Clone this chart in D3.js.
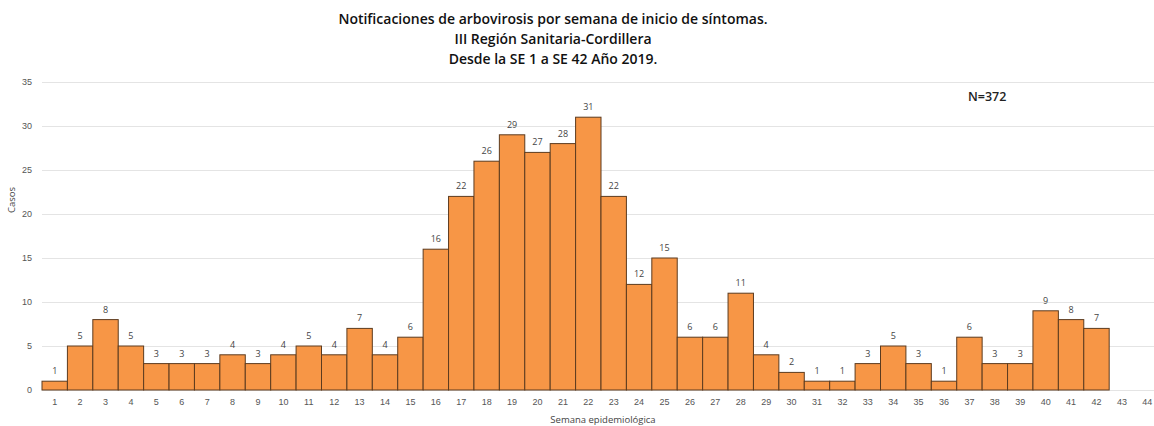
<!DOCTYPE html>
<html>
<head>
<meta charset="utf-8">
<script src="https://cdn.jsdelivr.net/npm/d3@7"></script>
<style>
  body { margin: 0; background: #fff; }
  svg { font-family: "Open Sans", sans-serif; }
  .title { font-weight: 600; font-size: 14px; fill: #111; }
  .tick text { fill: #555; font-size: 9px; }
</style>
</head>
<body>
<svg id="chart" width="1154" height="426"></svg>
<script>
// Data
var weeks = d3.range(1, 45);
var cases = [1, 5, 8, 5, 3, 3, 3, 4, 3, 4, 5, 4, 7, 4, 6, 16, 22, 26, 29, 27,
             28, 31, 22, 12, 15, 6, 6, 11, 4, 2, 1, 1, 3, 5, 3, 1, 6, 3, 3, 9,
             8, 7, null, null];
var yTicks = [0, 5, 10, 15, 20, 25, 30, 35];
var titleLines = ['Notificaciones de arbovirosis por semana de inicio de síntomas.',
                  'III Región Sanitaria-Cordillera',
                  'Desde la SE 1 a SE 42 Año 2019.'];

var svg = d3.select('#chart');
var plotLeft = 42, plotRight = 1160, plotTop = 82, plotBottom = 390;

var xScale = d3.scaleBand().domain(weeks).range([plotLeft, plotRight]).padding(0);
var yScale = d3.scaleLinear().domain([0, 35]).range([plotBottom, plotTop]);

// gridlines
svg.append('g').selectAll('line')
    .data(yTicks).enter()
    .append('line')
    .attr('x1', plotLeft).attr('x2', 1154)
    .attr('y1', function (d) { return yScale(d) + 0.5 })
    .attr('y2', function (d) { return yScale(d) + 0.5 })
    .attr('stroke', '#e4e4e4')
    .attr('stroke-width', 1);

// y axis labels
svg.append('g')
    .attr('transform', 'translate(' + (plotLeft - 6) + ',0)')
    .call(d3.axisLeft(yScale).tickValues(yTicks).tickSize(0).tickPadding(4))
    .call(function (g) { g.select('.domain').remove() });

// x axis labels
svg.append('g')
    .attr('transform', 'translate(0,' + plotBottom + ')')
    .call(d3.axisBottom(xScale).tickSize(0).tickPadding(9))
    .call(function (g) { g.select('.domain').remove() });

var data = weeks.map(function (w, i) { return { week: w, value: cases[i] } })
    .filter(function (d) { return d.value != null });

// bars
svg.append('g').selectAll('rect')
    .data(data).enter()
    .append('rect')
    .attr('x', function (d) { return xScale(d.week) })
    .attr('y', function (d) { return yScale(d.value) })
    .attr('width', xScale.bandwidth())
    .attr('height', function (d) { return plotBottom - yScale(d.value) })
    .attr('fill', '#F79646')
    .attr('stroke', '#5c3b1f')
    .attr('stroke-width', 1);

// value labels
svg.append('g').selectAll('text')
    .data(data).enter()
    .append('text')
    .attr('x', function (d) { return xScale(d.week) + xScale.bandwidth() / 2 })
    .attr('y', function (d) { return yScale(d.value) - 7 })
    .attr('text-anchor', 'middle')
    .attr('font-size', 9)
    .attr('fill', '#444')
    .text(function (d) { return d.value });

// titles
svg.append('g').selectAll('text')
    .data(titleLines).enter()
    .append('text')
    .attr('class', 'title')
    .attr('x', 553)
    .attr('y', function (d, i) { return 24 + i * 20 })
    .attr('text-anchor', 'middle')
    .text(function (d) { return d });

svg.append('text')
    .attr('x', 968).attr('y', 101)
    .attr('font-size', 12.5).attr('font-weight', 600).attr('fill', '#222')
    .text('N=372');

// axis titles
svg.append('text')
    .attr('transform', 'translate(15,200) rotate(-90)')
    .attr('text-anchor', 'middle')
    .attr('font-size', 9.5).attr('fill', '#444')
    .text('Casos');

svg.append('text')
    .attr('x', 603).attr('y', 423)
    .attr('text-anchor', 'middle')
    .attr('font-size', 9.5).attr('fill', '#444')
    .text('Semana epidemiológica');
</script>
</body>
</html>
